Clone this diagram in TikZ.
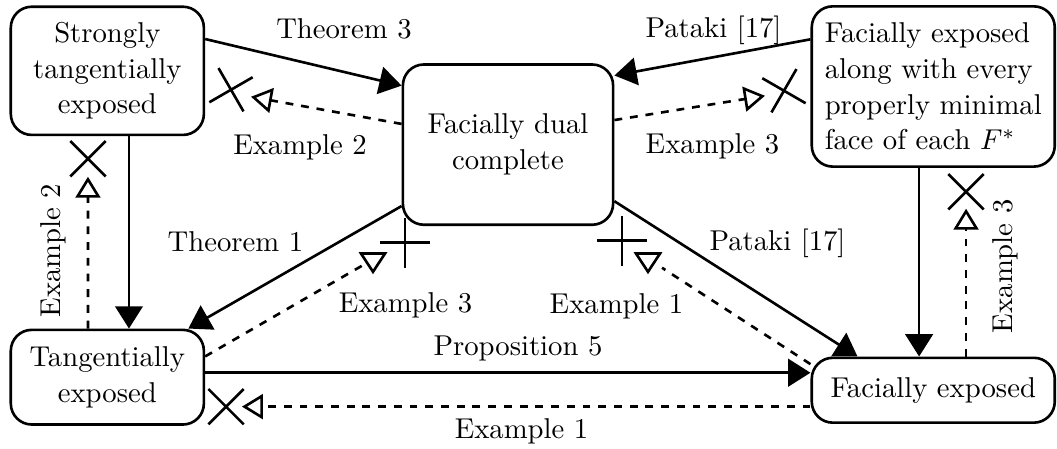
\documentclass[11pt,tikz,border=0pt]{standalone}
\usepackage{xcolor}
\usepackage{tikz}
\usetikzlibrary{arrows.meta,shapes.misc}

\begin{document}
\begin{tikzpicture}[
  box/.style={draw, line width=1pt, rounded corners=8pt, align=center, inner sep=2pt},
  imp/.style={line width=1pt, -{Triangle[length=8.5pt,width=10.5pt]}},
  nimp/.style={line width=1pt, dashed, -{Triangle[open,length=8pt,width=9.5pt]}},
  nogo/.style={draw, cross out, line width=1pt, minimum size=12.5pt, inner sep=0pt},
  opentip/.pic={\draw [line width=1pt, solid] (0,0) -- (-7pt,4.6pt) -- (-7pt,-4.6pt) -- cycle;}
]
\useasboundingbox (0,0) rectangle (14.18,6.02);

\node [box, minimum width=2.59cm, minimum height=1.72cm] (ste) at (1.44,5.07) {Strongly\\tangentially\\exposed};
\node [box, minimum width=2.82cm, minimum height=2.15cm] (fdc) at (6.815,4.08) {Facially dual\\complete};
\node [box, align=left, minimum width=3.26cm, minimum height=2.15cm] (fee) at (12.52,4.86) {Facially exposed\\along with every\\properly minimal\\face of each $F^*$};
\node [box, minimum width=2.59cm, minimum height=1.27cm] (te) at (1.44,0.96) {Tangentially\\exposed};
\node [box, minimum width=3.26cm, minimum height=0.87cm] (fe) at (12.52,0.785) {Facially exposed};

% implications
\draw [imp] (ste.18) -- (fdc.151);
\draw [imp] (fee.159) -- (fdc.33);
\draw [imp] ([xshift=0.29cm]ste.south) -- ([xshift=0.29cm]te.north);
\draw [imp] (fdc.210) -- (te.31);
\draw [imp] (fdc.-28) -- (fe.156);
\draw [imp] ([yshift=0.06cm]te.east) -- ([yshift=0.06cm]te.east -| fe.west);
\draw [imp] ([xshift=-0.19cm]fee.south) -- ([xshift=-0.19cm]fee.south |- fe.north);

% counterexamples
\coordinate (t1) at (3.367,4.722);
\draw [nimp] (fdc.169) -- (t1);
\node [nogo, rotate=-15] (x1) at (3.099,4.816) {};

\coordinate (t2) at (10.262,4.735);
\draw [nimp] (fdc.13) -- (t2);
\node [nogo, rotate=15] (x2) at (10.517,4.803) {};

\coordinate (t3) at (1.18,3.649);
\draw [nimp] ([xshift=-0.26cm]te.north) -- (t3);
\node [nogo] (x3) at (1.18,3.89) {};

\coordinate (t4) at (4.856,2.455);
\draw [nimp, -] (te.12) -- (t4);
\pic [rotate=-90] at (5.004,2.374) {opentip};
\node [nogo, rotate=45] (x4) at (5.433,2.763) {};

\coordinate (t5) at (8.881,2.428);
\draw [nimp, -] (fe.168) -- (t5);
\pic [rotate=-90] at (8.693,2.374) {opentip};
\node [nogo, rotate=45] (x5) at (8.344,2.790) {};

\coordinate (t6) at (3.246,0);
\draw [nimp] ([yshift=-0.22cm]fe.west) -- ([yshift=-0.22cm]fe.west -| t6);
\node [nogo] (x6) at (3.032,0.565) {};

\coordinate (t7) at (0,3.220);
\draw [nimp] ([xshift=0.44cm]fe.north) -- ([xshift=0.44cm]fe.north |- t7);
\node [nogo] (x7) at (12.96,3.448) {};

% labels
\node (l1) at (4.615,5.628) {Theorem 3};
\node (l2) at (4.025,4.045) {Example 2};
\node (l3) at (9.572,5.614) {Pataki [17]};
\node (l4) at (9.558,4.058) {Example 3};
\node (l5) at (3.159,2.777) {Theorem 1};
\node (l6) at (5.440,1.918) {Example 3};
\node (l7) at (8.270,1.912) {Example 1};
\node (l8) at (10.430,2.750) {Pataki [17]};
\node (l9) at (6.949,1.348) {Proposition 5};
\node (l10) at (6.996,0.235) {Example 1};
\node [rotate=90] (l11) at (0.711,2.656) {Example 2};
\node [rotate=90] (l12) at (13.482,2.448) {Example 3};
\end{tikzpicture}
\end{document}
